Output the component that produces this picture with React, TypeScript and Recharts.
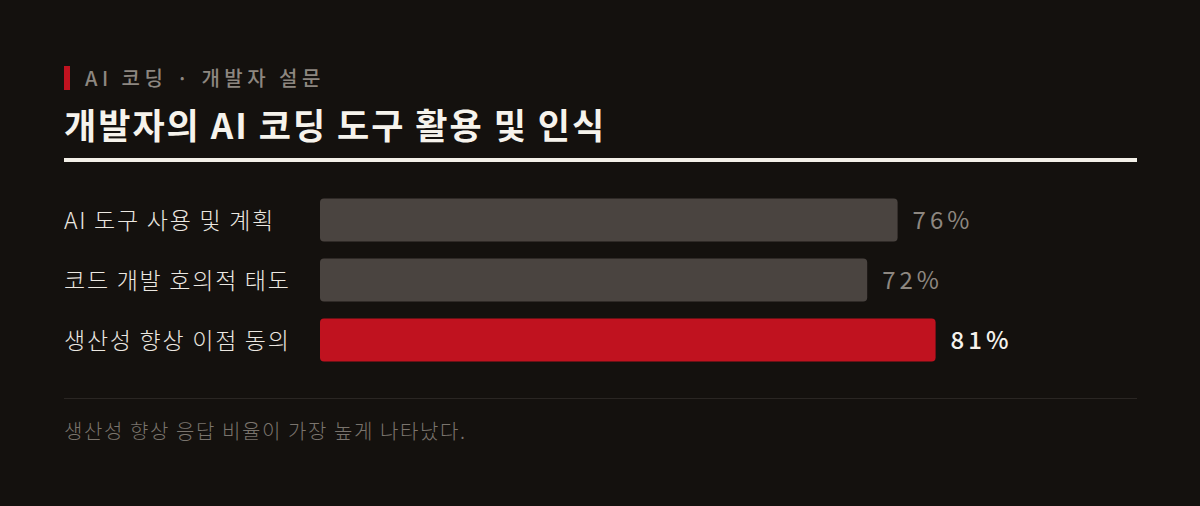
import React from 'react';
import { BarChart, Bar, XAxis, YAxis, Cell, LabelList } from 'recharts';

const categories = ['AI 도구 사용 및 계획', '코드 개발 호의적 태도', '생산성 향상 이점 동의'];
const values = [76, 72, 81];
const valueLabels = ['76%', '72%', '81%'];
const highlight = [false, false, true];

const eyebrow = 'AI 코딩 · 개발자 설문';
const title = '개발자의 AI 코딩 도구 활용 및 인식';
const footnote = '생산성 향상 응답 비율이 가장 높게 나타났다.';

const data = categories.map((name, i) => ({
  name,
  value: values[i],
  label: valueLabels[i],
  hi: highlight[i],
}));

const FONT = '"Noto Sans CJK KR", "Noto Sans", sans-serif';
const BG = '#14110e';
const GRAY_BAR = '#4a4440';
const RED = '#c0121f';

const CategoryTick = (props: any) => {
  const { y, payload } = props;
  return (
    <text x={0} y={y + 9} textAnchor="start" fill="#ece8e1" fontSize={23} fontWeight={300} fontFamily={FONT} letterSpacing={1.75}>
      {payload.value}
    </text>
  );
};

const ValueLabel = (props: any) => {
  const { x, y, width, height, index } = props;
  const hi = data[index]?.hi;
  return (
    <text
      x={Number(x) + Number(width) + 15}
      y={Number(y) + Number(height) / 2 + 9}
      textAnchor="start"
      fill={hi ? '#f5f2ec' : '#8d8780'}
      fontSize={24}
      fontFamily={FONT}
      fontWeight={hi ? 500 : 400}
      letterSpacing={4}
    >
      {data[index]?.label}
    </text>
  );
};

export default function App() {
  return (
    <div style={{ position: 'absolute', left: 0, top: 0, width: 1200, height: 506, background: BG, overflow: 'hidden' }}>
      <svg width={1200} height={506} style={{ position: 'absolute', left: 0, top: 0 }}>
        <rect x={64} y={66} width={6} height={24} fill={RED} />
        <text x={85} y={86} fill="#8d8780" fontSize={20} fontWeight={500} fontFamily={FONT} letterSpacing={4.5}>
          {eyebrow}
        </text>
        <text x={64} y={139} fill="#f6f3ec" fontSize={35} fontWeight={700} fontFamily={FONT} letterSpacing={2}>
          {title}
        </text>
        <rect x={64} y={158} width={1073} height={4} fill="#f3f0e8" />
        <rect x={64} y={398} width={1073} height={1} fill="#2a2623" />
        <text x={64} y={439} fill="#7a746d" fontSize={20} fontWeight={300} fontFamily={FONT} letterSpacing={1.6}>
          {footnote}
        </text>
      </svg>
      <div style={{ position: 'absolute', left: 64, top: 180 }}>
        <BarChart
          width={1072}
          height={200}
          data={data}
          layout="vertical"
          margin={{ top: 9.5, right: 56, bottom: 10.5, left: 0 }}
          barCategoryGap={17}
        >
          <XAxis type="number" domain={[0, 100]} hide />
          <YAxis
            type="category"
            dataKey="name"
            width={256}
            axisLine={false}
            tickLine={false}
            tick={<CategoryTick />}
          />
          <Bar dataKey="value" barSize={43} radius={4} isAnimationActive={false}>
            {data.map((d, i) => (
              <Cell key={i} fill={d.hi ? RED : GRAY_BAR} />
            ))}
            <LabelList dataKey="label" content={<ValueLabel />} />
          </Bar>
        </BarChart>
      </div>
    </div>
  );
}
